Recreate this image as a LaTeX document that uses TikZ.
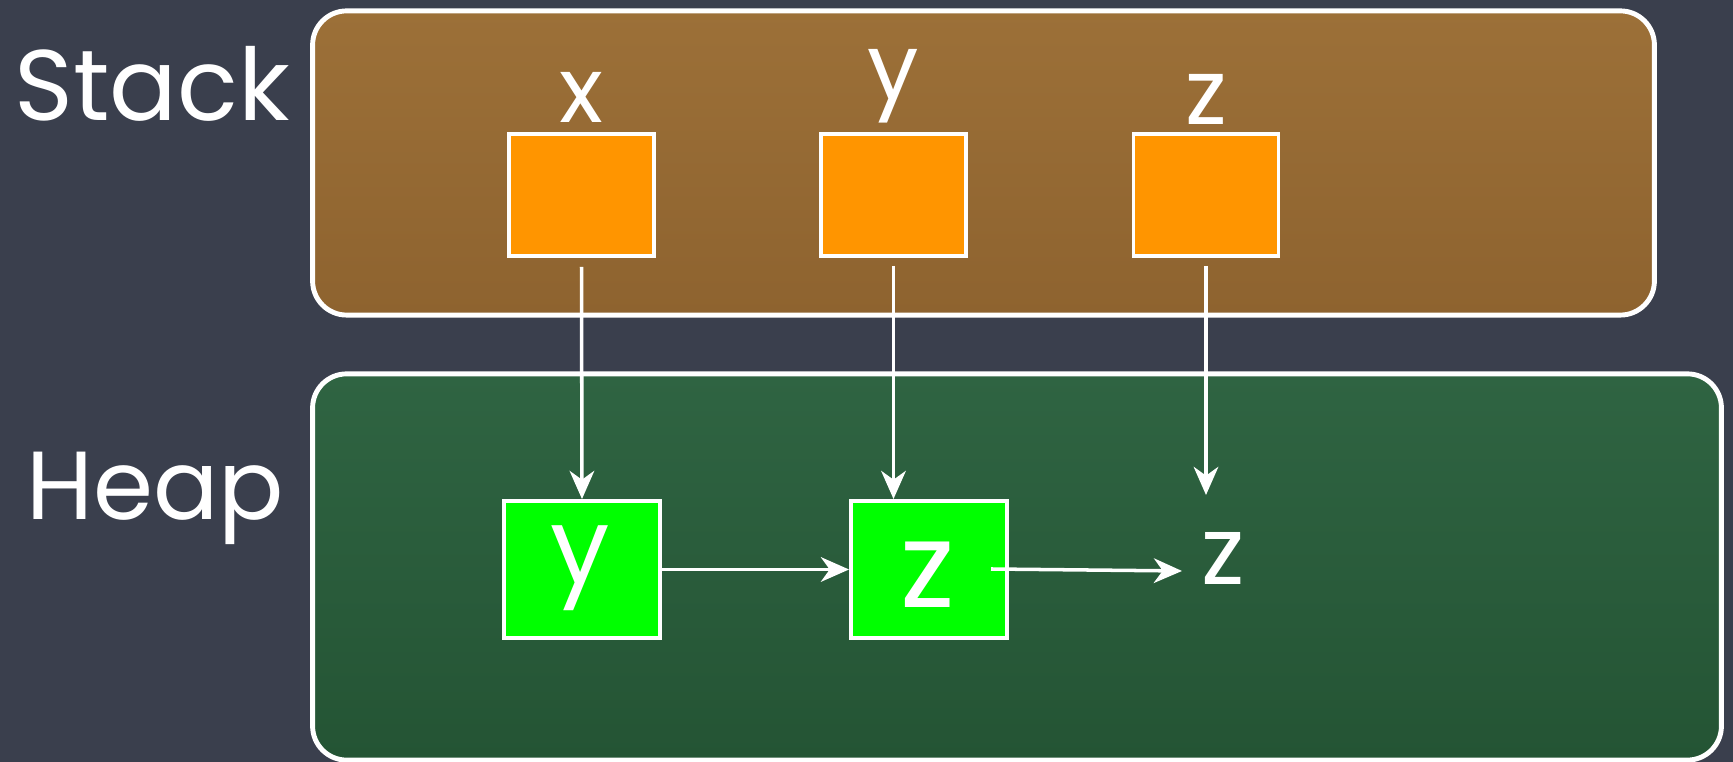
\documentclass[tikz,border=0pt]{standalone}
\usepackage{fontspec}
\setmainfont{Poppins}
\usetikzlibrary{arrows.meta,calc}
\definecolor{board}{HTML}{3A3F4D}
\definecolor{stacktop}{HTML}{9C7038}
\definecolor{stackbot}{HTML}{8E632F}
\definecolor{heaptop}{HTML}{2F6442}
\definecolor{heapbot}{HTML}{245434}
\definecolor{slot}{HTML}{FF9500}
\definecolor{cell}{HTML}{00FF00}
\begin{document}
\begin{tikzpicture}[x=0.01cm,y=-0.01cm,
  region/.style={draw=white, line width=1.4pt, rounded corners=0.34cm, inner sep=0pt},
  slotbox/.style={draw=white, fill=slot, line width=1pt, minimum width=1.45cm, minimum height=1.22cm, inner sep=0pt},
  cellbox/.style={draw=white, fill=cell, line width=1.1pt, minimum width=1.56cm, minimum height=1.37cm, inner sep=0pt},
  chalk/.style={text=white, inner sep=0pt},
  ptr/.style={draw=white, line width=1pt, -{Stealth[length=8pt,width=7pt,inset=2.5pt]}}]
\useasboundingbox (0,0) rectangle (1733,762);
\fill[board] (0,0) rectangle (1733,762);
% regions
\node[region, top color=stacktop, bottom color=stackbot, minimum width=13.41cm, minimum height=3.04cm] (stack) at (983.5,163) {};
\node[region, top color=heaptop, bottom color=heapbot, minimum width=14.08cm, minimum height=3.86cm] (heap) at (1017,567) {};
% region titles
\node[chalk, anchor=base, font=\fontsize{28.5}{34}\selectfont] (stacklbl) at (152,121) {Stack};
\node[chalk, anchor=base, font=\fontsize{27.5}{34}\selectfont] (heaplbl) at (155,520) {Heap};
% stack slots
\node[slotbox] (xs) at (581.5,195) {};
\node[slotbox] (ys) at (893.5,195) {};
\node[slotbox] (zs) at (1206,195) {};
\node[chalk, font=\fontsize{26}{30}\selectfont] (xl) at (581,97) {x};
\node[chalk, font=\fontsize{26}{30}\selectfont] (yl) at (893,86) {y};
\node[chalk, font=\fontsize{26}{30}\selectfont] (zl) at (1206,99) {z};
% heap cells
\node[cellbox] (Y) at (582,569.5) {};
\node[cellbox] (Z) at (929,569.5) {};
\node[chalk, font=\fontsize{30}{34}\selectfont] (Yt) at (580,568) {y};
\node[chalk, font=\fontsize{34}{38}\selectfont] (Zt) at (928,575) {z};
\node[chalk, font=\fontsize{27}{32}\selectfont] (fz) at (1223,558) {z};
% connector ends
\coordinate (zend) at (1206,495);
\coordinate (zin) at (991,569);
\coordinate (hend) at (1182,571);
% pointers
\draw[ptr] ($(xs.south)+(0,9)$) -- (Y.north);
\draw[ptr] ($(ys.south)+(0,8)$) -- (ys.south |- Z.north);
\draw[ptr] ($(zs.south)+(0,8)$) -- (zend);
\draw[ptr] (Y.east) -- (Z.west);
\draw[ptr] (zin) -- (hend);
\end{tikzpicture}
\end{document}
